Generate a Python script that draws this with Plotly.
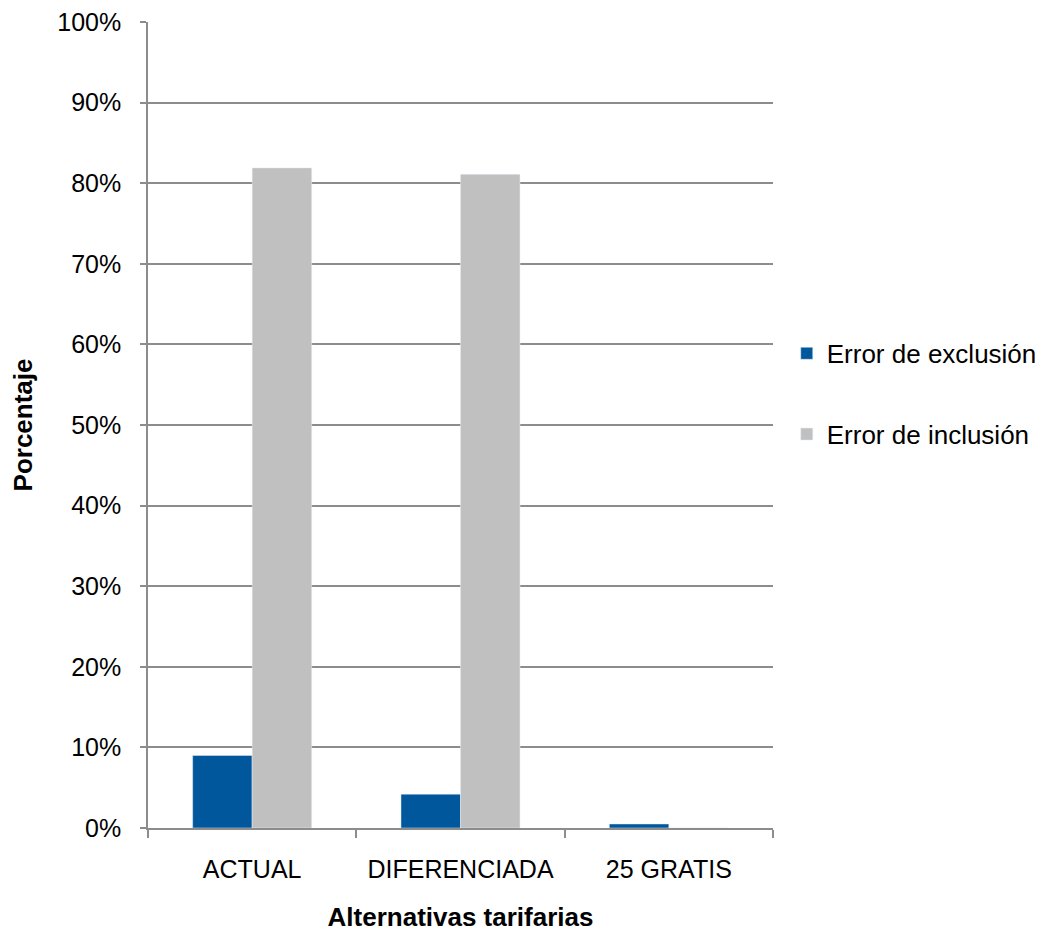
import plotly.graph_objects as go

categories = ["ACTUAL", "DIFERENCIADA", "25 GRATIS"]
exclusion = [9.0, 4.2, 0.5]
inclusion = [81.9, 81.1, 0.0]
y_ticks = [0, 10, 20, 30, 40, 50, 60, 70, 80, 90, 100]
y_labels = [f"{v}%" for v in y_ticks]

font_family = "Liberation Sans, Arial, sans-serif"

fig = go.Figure()
fig.add_trace(go.Bar(x=categories, y=exclusion, name="Error de exclusión",
                     marker_color="#00579C", legendgroup="a"))
fig.add_trace(go.Bar(x=categories, y=inclusion, name="Error de inclusión",
                     marker_color="#C0C0C0", legendgroup="b"))

fig.update_layout(
    width=1043, height=930,
    margin=dict(l=140, r=278, t=14, b=110, autoexpand=False),
    paper_bgcolor="white", plot_bgcolor="white",
    barmode="group", bargap=0.4286, bargroupgap=0,
    font=dict(family=font_family, size=25, color="#000000"),
    legend=dict(x=1.022, y=0.618, xanchor="left", yanchor="top",
                font=dict(size=26), tracegroupgap=44, itemwidth=30,
                bgcolor="rgba(0,0,0,0)"),
    xaxis=dict(
        automargin=False,
        showgrid=False, showline=True, linecolor="#8c8c8c", linewidth=1.5,
        ticks="outside", tickson="boundaries", ticklen=8, tickcolor="#8c8c8c",
        tickwidth=1.5, ticklabelstandoff=18,
        tickfont=dict(size=25),
        title=dict(text="<b>Alternativas tarifarias</b>", font=dict(size=26), standoff=26),
    ),
    yaxis=dict(
        automargin=False,
        range=[0, 100], tickvals=y_ticks, ticktext=y_labels,
        showgrid=True, gridcolor="#8c8c8c", gridwidth=1.5,
        showline=True, linecolor="#8c8c8c", linewidth=1.5,
        ticks="outside", ticklen=6, tickcolor="#8c8c8c", tickwidth=1.5,
        ticklabelstandoff=14, ticklabeloverflow="allow",
        tickfont=dict(size=25), zeroline=False,
        title=dict(text="<b>Porcentaje</b>", font=dict(size=26), standoff=33),
    ),
)

fig.write_html("out.html")
